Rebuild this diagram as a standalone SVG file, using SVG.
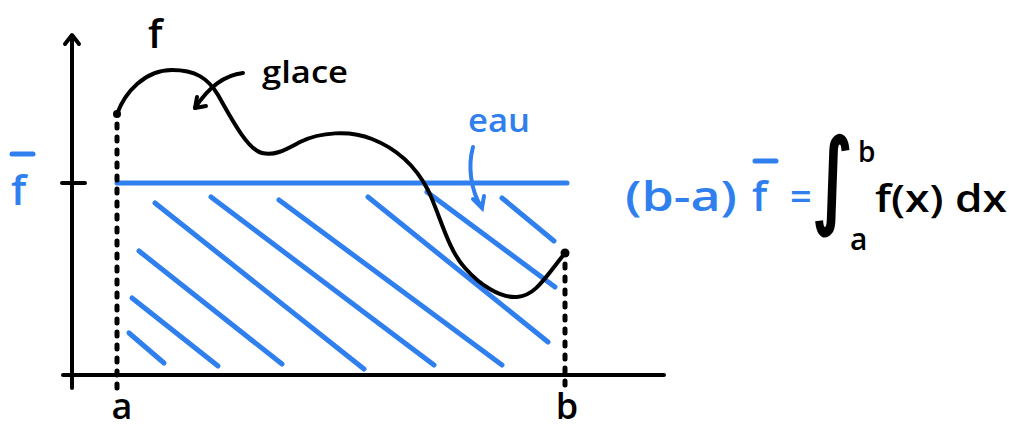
<svg xmlns="http://www.w3.org/2000/svg" width="1009" height="431" viewBox="0 0 1009 431">
<style>
.k{stroke:#000;stroke-width:4;fill:none;stroke-linecap:round;stroke-linejoin:round}
.bl{stroke:#2f7fef;stroke-width:5;fill:none;stroke-linecap:round}
.dot{stroke:#000;stroke-width:5;fill:none;stroke-linecap:round;stroke-dasharray:4 9}
.t{font-family:"Open Sans","DejaVu Sans",sans-serif;font-weight:600}
.tb{fill:#2f7fef}
.tk{fill:#000}
</style>
<rect width="1009" height="431" fill="#fff"/>
<g id="axes">
<path class="k" d="M72,388 L72,36"/>
<path class="k" d="M65,44 L72,35 L79,44"/>
<path class="k" d="M63,375 L664,375"/>
<path class="k" d="M62,183 L85,183"/>
</g>
<g id="hatch">
<path class="bl" d="M117,183 L567,183"/>
<path class="bl" d="M129,333 L164,363"/>
<path class="bl" d="M132,298 L218,366"/>
<path class="bl" d="M139,251 L282,364"/>
<path class="bl" d="M155,203 L364,369"/>
<path class="bl" d="M211,197 L434,365"/>
<path class="bl" d="M279,200 L502,365"/>
<path class="bl" d="M368,197 L548,342"/>
<path class="bl" d="M427,192 L555,287"/>
<path class="bl" d="M502,198 L554,241"/>
</g>
<g id="bounds">
<path class="dot" d="M117,124 L117,388"/>
<path class="dot" d="M565,264 L565,386"/>
</g>
<g id="curve">
<path class="k" d="M117,114 C125,92 145,70 172,70 C195,70 208,78 218,95 C232,120 248,150 262,153 C275,156 285,150 300,142 C320,132 350,130 372,139 C395,148 415,165 428,190 C440,215 448,250 465,268 C480,285 500,298 517,297 C535,296 545,278 565,253"/>
<circle cx="117" cy="114" r="4" fill="#000"/>
<circle cx="565" cy="253" r="4.5" fill="#000"/>
</g>
<g id="connectors">
<path class="k" d="M243,73 C225,75 208,88 195,108"/>
<path class="k" d="M197,97 L195,108 L206,106"/>
<path class="bl" style="stroke-width:4" d="M473,147 C468,165 470,190 482,208"/>
<path class="bl" style="stroke-width:4" d="M473,199 L482,208 L484,196"/>
</g>
<g id="labels">
<text class="t tk" x="148" y="48" font-size="40">f</text>
<text class="t tk" x="262" y="83" font-size="30" textLength="86" lengthAdjust="spacingAndGlyphs">glace</text>
<text class="t tb" x="468" y="132" font-size="32" textLength="62" lengthAdjust="spacingAndGlyphs">eau</text>
<g id="fbar-left">
<text class="t tb" x="11" y="205" font-size="42">f</text>
<path class="bl" d="M12,154 L33,154"/>
</g>
<text class="t tk" x="122" y="419" font-size="36" text-anchor="middle">a</text>
<text class="t tk" x="567" y="419" font-size="36" text-anchor="middle">b</text>
</g>
<g id="formula">
<text class="t tb" x="625" y="211" font-size="42" textLength="112" lengthAdjust="spacingAndGlyphs">(b-a)</text>
<text class="t tb" x="752" y="211" font-size="42">f</text>
<path class="bl" d="M755,161 L776,161"/>
<text class="t tb" x="790" y="210" font-size="38">=</text>
<text class="tk" transform="translate(812,214) scale(0.75,1)" font-size="104" font-family="DejaVu Sans, sans-serif" stroke="#000" stroke-width="3">∫</text>
<text class="t tk" x="858" y="162" font-size="28">b</text>
<text class="t tk" x="850" y="250" font-size="30">a</text>
<text class="t tk" x="875" y="212" font-size="38" textLength="132" lengthAdjust="spacingAndGlyphs">f(x) dx</text>
</g>
</svg>
